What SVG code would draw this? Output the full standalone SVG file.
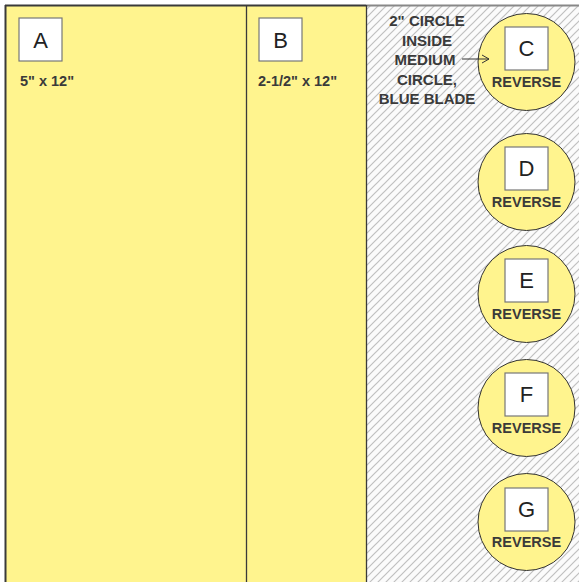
<svg xmlns="http://www.w3.org/2000/svg" width="579" height="582" viewBox="0 0 579 582">
<style>
.bold{font-family:"Liberation Sans",Arial,sans-serif;font-weight:bold;fill:#3a3a3a}
.lab{font-family:"Liberation Sans",Arial,sans-serif;font-size:22px;fill:#222;text-anchor:middle}
.box{fill:#fff;stroke:#777;stroke-width:1.2}
.circ{fill:#fff48e;stroke:#333;stroke-width:1}
.rev{font-size:14.5px;text-anchor:middle}
</style>
<defs>
<pattern id="hatch" patternUnits="userSpaceOnUse" width="8" height="8">
<rect width="8" height="8" fill="#fbfbfb"/>
<path d="M-1,1 L1,-1 M0,8 L8,0 M7,9 L9,7" stroke="#c0c0c0" stroke-width="1.2"/>
</pattern>
<marker id="arr" markerWidth="10" markerHeight="10" refX="8" refY="5" orient="auto" markerUnits="userSpaceOnUse">
<path d="M1,1 L8,5 L1,9" fill="none" stroke="#333" stroke-width="1"/>
</marker>
</defs>
<g id="background">
<rect x="366" y="5" width="213" height="577" fill="url(#hatch)"/>
<line x1="366" y1="5.5" x2="579" y2="5.5" stroke="#888" stroke-width="2"/>
</g>
<g id="panelA">
<rect x="5" y="5" width="241" height="577" fill="#fff48e"/>
<rect x="19" y="18" width="43" height="43" class="box"/>
<text x="40.5" y="48" class="lab">A</text>
<text x="20" y="86" class="bold" font-size="14.5">5" x 12"</text>
</g>
<g id="panelB">
<rect x="246" y="5" width="120" height="577" fill="#fff48e"/>
<rect x="259" y="18" width="43" height="43" class="box"/>
<text x="280.5" y="48" class="lab">B</text>
<text x="258" y="86" class="bold" font-size="14.5">2-1/2" x 12"</text>
</g>
<g id="frame" stroke="#3a3a3a" fill="none">
<line x1="5" y1="5.5" x2="366" y2="5.5" stroke-width="2"/>
<line x1="5.5" y1="5" x2="5.5" y2="582" stroke-width="2"/>
<line x1="246.5" y1="5" x2="246.5" y2="582" stroke-width="1.3"/>
<line x1="366.5" y1="5" x2="366.5" y2="582" stroke-width="1.3"/>
</g>
<g id="note" class="bold" font-size="15" text-anchor="middle">
<text x="427" y="26">2" CIRCLE</text>
<text x="427" y="46">INSIDE</text>
<text x="425" y="65">MEDIUM</text>
<text x="427" y="85">CIRCLE,</text>
<text x="427" y="104">BLUE BLADE</text>
</g>
<g id="C">
<circle cx="526.5" cy="62" r="48.5" class="circ"/>
<rect x="505" y="27" width="43" height="43" class="box"/>
<text x="526.5" y="56" class="lab">C</text>
<text x="526.5" y="87" class="bold rev">REVERSE</text>
</g>
<g id="D">
<circle cx="526.5" cy="182" r="48.5" class="circ"/>
<rect x="505" y="147" width="43" height="43" class="box"/>
<text x="526.5" y="176" class="lab">D</text>
<text x="526.5" y="207" class="bold rev">REVERSE</text>
</g>
<g id="E">
<circle cx="526.5" cy="294" r="48.5" class="circ"/>
<rect x="505" y="259" width="43" height="43" class="box"/>
<text x="526.5" y="288" class="lab">E</text>
<text x="526.5" y="319" class="bold rev">REVERSE</text>
</g>
<g id="F">
<circle cx="526.5" cy="408" r="48.5" class="circ"/>
<rect x="505" y="373" width="43" height="43" class="box"/>
<text x="526.5" y="402" class="lab">F</text>
<text x="526.5" y="433" class="bold rev">REVERSE</text>
</g>
<g id="G">
<circle cx="526.5" cy="522" r="48.5" class="circ"/>
<rect x="505" y="488" width="43" height="43" class="box"/>
<text x="526.5" y="517" class="lab">G</text>
<text x="526.5" y="547" class="bold rev">REVERSE</text>
</g>
<g id="connectors">
<line x1="462" y1="59" x2="489" y2="59" stroke="#333" stroke-width="1" marker-end="url(#arr)"/>
</g>
</svg>
